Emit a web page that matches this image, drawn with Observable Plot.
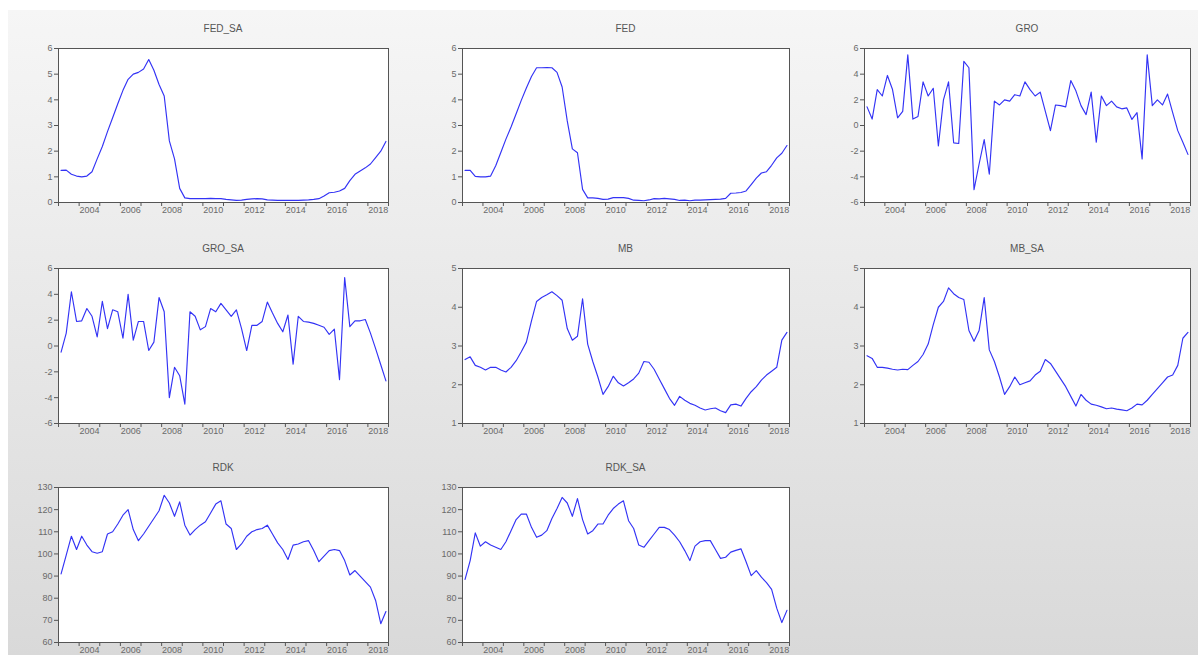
<!DOCTYPE html>
<html><head><meta charset="utf-8">
<script src="https://cdn.jsdelivr.net/npm/d3@7"></script>
<script src="https://cdn.jsdelivr.net/npm/@observablehq/plot@0.6"></script>
<style>
html,body{margin:0;padding:0;background:#fff;width:1198px;height:655px;overflow:hidden;}
#bg{position:absolute;left:8px;top:10px;width:1190px;height:645px;background:linear-gradient(#f6f6f6,#d9d9d9);}
.panel{position:absolute;}
.ttl{position:absolute;font:10px "Liberation Sans",Arial,sans-serif;color:#555;text-align:center;line-height:12px;height:12px;}
</style></head><body><div id="bg"></div><div id="root"></div>
<script>
// Quarterly observations 2003Q1 .. 2018Q4
const startYear = 2003;

const FED_SA = [1.25,1.26,1.1,1.03, 1.0,1.03,1.2,1.7, 2.18,2.76,3.3,3.85, 4.37,4.8,5.0,5.07,
  5.2,5.57,5.15,4.6, 4.15,2.4,1.7,0.55, 0.18,0.15,0.15,0.15, 0.15,0.16,0.15,0.15,
  0.12,0.1,0.08,0.09, 0.12,0.14,0.15,0.14, 0.1,0.09,0.08,0.08, 0.08,0.08,0.08,0.09,
  0.1,0.12,0.15,0.25, 0.38,0.4,0.45,0.55, 0.85,1.1,1.23,1.35, 1.5,1.75,2.0,2.38];

const FED = [1.25,1.25,1.02,1.00, 1.00,1.03,1.43,1.95, 2.47,2.94,3.46,3.98, 4.46,4.91,5.25,5.25,
  5.26,5.25,5.07,4.50, 3.18,2.09,1.94,0.51, 0.18,0.18,0.16,0.12, 0.13,0.19,0.19,0.19,
  0.16,0.09,0.08,0.07, 0.10,0.15,0.14,0.16, 0.14,0.12,0.08,0.09, 0.07,0.09,0.09,0.10,
  0.11,0.12,0.13,0.16, 0.36,0.37,0.39,0.45, 0.70,0.95,1.15,1.20, 1.45,1.74,1.92,2.22];

const GRO = [1.45,0.5,2.8,2.3, 3.9,2.8,0.6,1.1, 5.5,0.5,0.7,3.4, 2.3,2.9,-1.6,2.0,
  3.4,-1.35,-1.4,5.0, 4.5,-5.0,-3.0,-1.1, -3.8,1.9,1.6,2.0, 1.9,2.4,2.3,3.4,
  2.8,2.3,2.6,1.1, -0.4,1.6,1.55,1.45, 3.5,2.7,1.55,0.85, 2.6,-1.3,2.3,1.55,
  1.9,1.45,1.3,1.37, 0.47,1.0,-2.6,5.5, 1.55,2.0,1.6,2.45, 1.0,-0.4,-1.3,-2.25];

const GRO_SA = [-0.47,1.0,4.2,1.9, 1.95,2.9,2.3,0.7, 3.45,1.35,2.8,2.65, 0.6,4.0,0.45,1.9,
  1.9,-0.35,0.3,3.75, 2.65,-4.0,-1.65,-2.3, -4.5,2.65,2.3,1.25, 1.5,2.9,2.65,3.3,
  2.8,2.3,2.8,1.35, -0.35,1.6,1.6,1.9, 3.4,2.55,1.75,1.1, 2.4,-1.4,2.3,1.9,
  1.85,1.75,1.6,1.45, 0.9,1.3,-2.6,5.3, 1.5,1.95,1.95,2.05, 1.0,-0.2,-1.45,-2.7];

const MB = [2.65,2.72,2.5,2.45, 2.38,2.45,2.45,2.38, 2.33,2.45,2.62,2.85, 3.1,3.65,4.15,4.25,
  4.32,4.4,4.3,4.18, 3.45,3.15,3.25,4.22, 3.05,2.6,2.2,1.75, 1.95,2.22,2.05,1.97,
  2.05,2.15,2.3,2.6, 2.58,2.4,2.15,1.9, 1.65,1.47,1.7,1.6, 1.52,1.47,1.4,1.35,
  1.38,1.4,1.33,1.28, 1.48,1.5,1.45,1.65, 1.82,1.95,2.12,2.25, 2.35,2.45,3.15,3.35];

const MB_SA = [2.75,2.68,2.45,2.45, 2.43,2.4,2.38,2.4, 2.39,2.5,2.6,2.78, 3.05,3.55,4.0,4.15,
  4.5,4.35,4.25,4.2, 3.4,3.12,3.4,4.25, 2.9,2.6,2.2,1.75, 1.95,2.2,2.0,2.05,
  2.1,2.25,2.35,2.65, 2.55,2.35,2.15,1.95, 1.7,1.45,1.75,1.6, 1.5,1.47,1.43,1.38,
  1.4,1.37,1.35,1.33, 1.4,1.5,1.48,1.6, 1.75,1.9,2.05,2.2, 2.25,2.5,3.2,3.35];

const RDK = [91,99.5,108,102, 108,104,101,100.3, 101,109,110,113.5, 117.5,120,111,106,
  109,112.5,116,119.5, 126.5,123,117,123.5, 113,108.5,111,113, 114.5,118.5,122.5,124,
  113.5,111.5,102,104.5, 108,110,111,111.5, 113,109,105,102, 97.5,104,104.5,105.5,
  106,101.5,96.5,99, 101.5,102,101.5,97, 90.5,92.5,90,87.5, 85,79,68.5,74];

const RDK_SA = [88.5,97,109.5,103.5, 105.5,104,103,102, 105.5,110.5,115.5,118, 118,112,107.5,108.5,
  110.5,116,120.5,125.5, 123,117,125,115.5, 109,110.5,113.5,113.5, 117.5,120.5,122.5,124,
  115,111.5,104,103, 106,109,112,112, 111,108.5,105.5,101.5, 97,103.5,105.5,106,
  106,102,98,98.5, 100.8,101.6,102.3,96.5, 90.2,92.5,89.5,87, 84,75.5,69,74.5];

const yearTicks = [2003,2004,2005,2006,2007,2008,2009,2010,2011,2012,2013,2014,2015,2016,2017,2018,2019];
const yearLabels = [2004,2006,2008,2010,2012,2014,2016,2018];

const seriesNames = ["FED_SA","FED","GRO","GRO_SA","MB","MB_SA","RDK","RDK_SA"];
const seriesValues = [FED_SA,FED,GRO,GRO_SA,MB,MB_SA,RDK,RDK_SA];
const yDomains = [[0,6],[0,6],[-6,6],[-6,6],[1,5],[1,5],[60,130],[60,130]];
const yTickSets = [[0,1,2,3,4,5,6],[0,1,2,3,4,5,6],[-6,-4,-2,0,2,4,6],[-6,-4,-2,0,2,4,6],
  [1,2,3,4,5],[1,2,3,4,5],[60,70,80,90,100,110,120,130],[60,70,80,90,100,110,120,130]];

// layout (frames in page pixels)
const colX = [[58,388],[462,789],[864,1190]];
const rowY = [[48,202],[268,423],[487,642]];
const mL = 36, mR = 8, mT = 6, mB = 13;

const root = document.getElementById("root");
seriesNames.forEach((name, k) => {
  const col = k % 3, row = Math.floor(k / 3);
  const [x0, x1] = colX[col], [y0, y1] = rowY[row];
  const fw = x1 - x0, fh = y1 - y0;
  const rows = seriesValues[k].map((v, i) => ({t: startYear + (i + 0.5) / 4, v}));
  const svg = Plot.plot({
    width: fw + mL + mR, height: fh + mT + mB,
    marginLeft: mL, marginRight: mR, marginTop: mT, marginBottom: mB,
    x: {domain: [2003, 2019]},
    y: {domain: yDomains[k]},
    style: {background: "transparent", fontFamily: "'Liberation Sans', Arial, sans-serif", fontSize: "9px", color: "#6a6a6a", overflow: "visible"},
    marks: [
      Plot.frame({fill: "white", stroke: null}),
      Plot.line(rows, {x: "t", y: "v", stroke: "#3333f5", strokeWidth: 1.15}),
      Plot.frame({stroke: "#555", strokeWidth: 1}),
      Plot.axisY({ticks: yTickSets[k], tickFormat: d => String(d), tickSize: 4, tickPadding: 2, stroke: "#555", label: null}),
      Plot.axisX({ticks: yearTicks, tickFormat: () => "", tickSize: 4, stroke: "#555", label: null}),
      Plot.axisX({ticks: yearLabels.map(y => y + 0.5), tickFormat: d => String(Math.floor(d)), tickSize: 0, tickPadding: 4, label: null})
    ]
  });
  const wrap = document.createElement("div");
  wrap.className = "panel";
  wrap.style.left = (x0 - mL) + "px";
  wrap.style.top = (y0 - mT) + "px";
  wrap.appendChild(svg);
  root.appendChild(wrap);
  const t = document.createElement("div");
  t.className = "ttl";
  t.textContent = name;
  t.style.left = x0 + "px";
  t.style.width = fw + "px";
  t.style.top = (y0 - 25) + "px";
  root.appendChild(t);
});
</script>
</body></html>
